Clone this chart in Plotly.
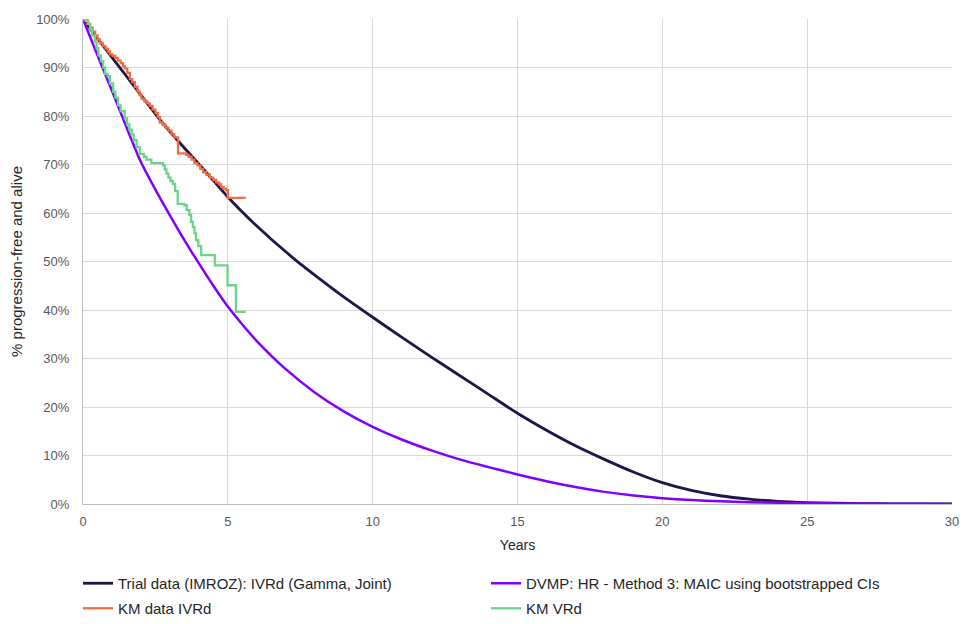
import plotly.graph_objects as go

# ---- Data ----
trial_t = [0, 0.5, 1, 1.5, 2, 2.5, 3, 3.5, 4, 4.5, 5, 5.5, 6, 6.5, 7, 7.5, 8, 9, 10, 11, 12, 13, 14, 15,
           16, 17, 18, 19, 20, 21, 22, 23, 24, 25, 26, 27, 28, 29, 30]
trial_s = [100, 96.0, 92.1, 88.2, 84.3, 80.4, 76.8, 73.4, 70.1, 66.7, 63.3, 60.2, 57.3, 54.6, 52.0, 49.5, 47.2,
           42.7, 38.5, 34.4, 30.4, 26.5, 22.6, 18.7, 15.2, 12.0, 9.2, 6.6, 4.4, 2.8, 1.7, 1.0, 0.55, 0.3,
           0.15, 0.07, 0.03, 0.01, 0.0]

dvmp_t = [0, 0.5, 1, 1.5, 2, 2.5, 3, 3.5, 4, 4.5, 5, 5.5, 6, 7, 8, 9, 10, 11, 12, 13, 14, 15, 16, 17, 18,
          19, 20, 21, 22, 23, 24, 25, 26, 27, 28, 29, 30]
dvmp_s = [100, 92.5, 85.2, 77.7, 70.5, 64.8, 59.5, 54.4, 49.6, 45.0, 40.7, 37.0, 33.6, 27.8, 23.0, 19.1,
          15.9, 13.3, 11.1, 9.2, 7.6, 6.1, 4.7, 3.5, 2.5, 1.75, 1.2, 0.8, 0.55, 0.38, 0.26, 0.18, 0.12,
          0.08, 0.05, 0.03, 0.02]

km_ivrd_t = [0, 0.07, 0.15, 0.24, 0.33, 0.42, 0.5, 0.58, 0.68, 0.78, 0.86, 0.93, 1.02, 1.12, 1.21, 1.3,
             1.38, 1.44, 1.53, 1.62, 1.7, 1.79, 1.88, 1.95, 2.02, 2.12, 2.22, 2.3, 2.4, 2.5, 2.58, 2.65,
             2.75, 2.85, 2.95, 3.05, 3.15, 3.28, 3.56, 3.65, 3.75, 3.85, 3.95, 4.05, 4.15, 4.25, 4.38, 4.5,
             4.6, 4.7, 4.77, 4.85, 4.94, 5.0, 5.62]
km_ivrd_s = [100, 99.7, 99.0, 98.2, 97.4, 96.6, 95.8, 95.0, 94.4, 93.9, 93.3, 92.7, 92.4, 92.0, 91.4, 90.9,
             90.3, 89.8, 88.9, 87.6, 87.0, 86.0, 85.2, 84.3, 83.6, 83.0, 82.6, 82.1, 81.3, 80.6, 79.8, 78.7,
             78.2, 77.6, 77.0, 76.2, 75.6, 72.3, 72.0, 71.6, 71.0, 70.3, 69.8, 69.1, 68.4, 67.9, 67.3, 66.8,
             66.3, 65.9, 65.4, 65.0, 64.7, 63.1, 63.1]

km_vrd_t = [0, 0.1, 0.18, 0.25, 0.32, 0.41, 0.47, 0.53, 0.62, 0.7, 0.76, 0.85, 0.93, 1.04, 1.12, 1.21,
            1.3, 1.44, 1.52, 1.6, 1.68, 1.75, 1.85, 1.96, 2.1, 2.19, 2.36, 2.76, 2.82, 2.88, 2.95, 3.02,
            3.1, 3.18, 3.27, 3.5, 3.58, 3.67, 3.73, 3.79, 3.85, 3.9, 3.98, 4.08, 4.55, 4.99, 5.28, 5.62]
km_vrd_s = [100, 99.6, 99.0, 97.8, 96.6, 95.3, 94.0, 92.5, 91.3, 90.0, 88.7, 88.2, 86.7, 85.0, 83.8, 82.2,
            81.0, 79.5, 78.3, 77.2, 76.2, 75.0, 73.6, 72.2, 71.6, 71.0, 70.3, 69.8, 69.0, 68.1, 67.3, 66.6,
            66.0, 64.5, 61.9, 61.6, 60.6, 59.6, 58.2, 57.1, 55.8, 54.4, 53.2, 51.3, 49.2, 45.1, 39.6, 39.6]

x_ticks = [0, 5, 10, 15, 20, 25, 30]
y_ticks = [0, 10, 20, 30, 40, 50, 60, 70, 80, 90, 100]
y_labels = [f"{v}%" for v in y_ticks]

names = ["Trial data (IMROZ): IVRd (Gamma, Joint)",
         "DVMP: HR - Method 3: MAIC using bootstrapped CIs",
         "KM data IVRd",
         "KM VRd"]

FONT = "Liberation Sans, Arial, sans-serif"
TXT = "#595959"
DARK = "#262626"

fig = go.Figure()
fig.add_trace(go.Scatter(x=trial_t, y=trial_s, mode="lines", name=names[0], legend="legend",
                         line=dict(color="#24124a", width=2.8, shape="spline", smoothing=0.6)))
fig.add_trace(go.Scatter(x=dvmp_t, y=dvmp_s, mode="lines", name=names[1], legend="legend",
                         line=dict(color="#7f00ff", width=2.5, shape="spline", smoothing=0.6)))
fig.add_trace(go.Scatter(x=km_ivrd_t, y=km_ivrd_s, mode="lines", name=names[2], legend="legend2",
                         line=dict(color="#f26b43", width=2.3, shape="hv")))
fig.add_trace(go.Scatter(x=km_vrd_t, y=km_vrd_s, mode="lines", name=names[3], legend="legend2",
                         line=dict(color="#6ad58a", width=2.3, shape="hv")))

leg_common = dict(orientation="h", xref="container", yref="container",
                  x=78 / 971, xanchor="left", yanchor="top",
                  entrywidth=363, entrywidthmode="pixels",
                  font=dict(family=FONT, size=15, color=DARK),
                  itemwidth=30, bgcolor="rgba(0,0,0,0)")

fig.update_layout(
    width=971, height=624,
    margin=dict(l=83, r=16, t=19, b=120),
    paper_bgcolor="white", plot_bgcolor="white",
    font=dict(family=FONT, size=13, color=TXT),
    showlegend=True,
    legend=dict(**leg_common, y=1 - 567 / 624),
    legend2=dict(**leg_common, y=1 - 592 / 624),
)
fig.update_xaxes(range=[0, 30], tickvals=x_ticks, ticktext=[str(v) for v in x_ticks],
                 showgrid=True, gridcolor="#d9d9d9", gridwidth=1,
                 showline=True, linecolor="#bfbfbf", linewidth=1, zeroline=False,
                 ticks="", ticklabelstandoff=5, tickfont=dict(size=13, color=TXT),
                 title=dict(text="Years", font=dict(size=14, color=DARK), standoff=12))
fig.update_yaxes(range=[0, 100], tickvals=y_ticks, ticktext=y_labels,
                 showgrid=True, gridcolor="#d9d9d9", gridwidth=1,
                 showline=True, linecolor="#bfbfbf", linewidth=1, zeroline=False,
                 ticks="", ticklabelstandoff=10, tickfont=dict(size=13, color=TXT),
                 title=dict(text="% progression-free and alive", font=dict(size=15, color=DARK), standoff=9))

fig.write_html("out.html")
